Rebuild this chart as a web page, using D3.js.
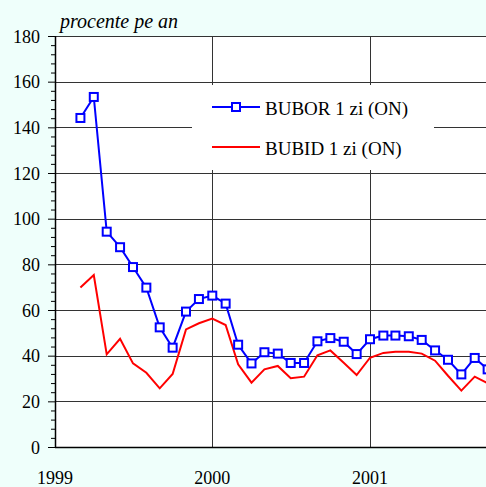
<!DOCTYPE html>
<html>
<head>
<meta charset="utf-8">
<script src="https://cdn.jsdelivr.net/npm/d3@7"></script>
<style>
  body { margin: 0; background: #effffb; }
  svg { display: block; }
  svg text { font-family: "Liberation Serif", "Tinos", "DejaVu Serif", "Times New Roman", Times, serif; }
</style>
</head>
<body>
<script>
// monthly observations, Mar 1999 .. Oct 2001
const months = [
  "1999-03", "1999-04", "1999-05", "1999-06", "1999-07", "1999-08", "1999-09", "1999-10",
  "1999-11", "1999-12", "2000-01", "2000-02", "2000-03", "2000-04", "2000-05", "2000-06",
  "2000-07", "2000-08", "2000-09", "2000-10", "2000-11", "2000-12", "2001-01", "2001-02",
  "2001-03", "2001-04", "2001-05", "2001-06", "2001-07", "2001-08", "2001-09", "2001-10"
];
const bubor = [
  144.1, 153.3, 94.3, 87.5, 78.8, 69.8, 52.4, 43.5, 59.3, 64.8, 66.3, 62.8, 44.8, 36.6, 41.5, 40.9,
  36.8, 36.8, 46.3, 47.7, 46.1, 40.7, 47.2, 48.8, 48.8, 48.5, 46.9, 42.3, 38.2, 31.8, 39.0, 34.0
];
const bubid = [
  69.9, 75.3, 40.6, 47.4, 36.6, 32.5, 25.7, 32.0, 51.5, 54.2, 56.2, 53.4, 36.2, 28.2, 34.0, 35.5,
  30.1, 30.8, 40.2, 42.3, 36.9, 31.5, 39.1, 41.2, 41.7, 41.7, 40.9, 37.8, 31.2, 24.7, 30.8, 27.9
];
const yearTicks = ["1999", "2000", "2001"];
const legendNames = ["BUBOR 1 zi (ON)", "BUBID 1 zi (ON)"];

const W = 486, H = 487;
const plotL = 55, plotT = 36, plotB = 447, plotR = 486;

const parse = d3.timeParse("%Y-%m");
const dates = months.map(parse);
const yearDates = yearTicks.map(d3.timeParse("%Y"));

const x = d3.scaleTime()
  .domain([yearDates[0], yearDates[2]])
  .range([plotL, 370]);
const y = d3.scaleLinear().domain([0, 180]).range([plotB, plotT]);

const svg = d3.select("body").append("svg")
  .attr("width", W)
  .attr("height", H);

// plot area
svg.append("rect")
  .attr("x", plotL).attr("y", plotT)
  .attr("width", plotR - plotL).attr("height", plotB - plotT)
  .attr("fill", "#fff");

svg.append("defs").append("clipPath").attr("id", "clip")
  .append("rect")
  .attr("x", plotL).attr("y", plotT)
  .attr("width", plotR - plotL).attr("height", plotB - plotT);

// gridlines
const grid = svg.append("g").attr("stroke", "#333").attr("stroke-width", 1);
grid.selectAll(".hg")
  .data(d3.range(20, 181, 20))
  .join("line")
  .attr("x1", plotL).attr("x2", plotR)
  .attr("y1", (d) => Math.round(y(d)) + 0.5)
  .attr("y2", (d) => Math.round(y(d)) + 0.5);
grid.selectAll(".vg")
  .data(yearDates.slice(1))
  .join("line")
  .attr("x1", (d) => Math.round(x(d)) + 0.5)
  .attr("x2", (d) => Math.round(x(d)) + 0.5)
  .attr("y1", plotT).attr("y2", plotB);

// legend box sits over the grid
svg.append("rect")
  .attr("x", 192).attr("y", 85)
  .attr("width", 242).attr("height", 85)
  .attr("fill", "#fff");

// y axis: major ticks with labels, minor ticks every 4
const minor = d3.range(0, 181, 4).filter((d) => d % 20 !== 0);
const yMinor = svg.append("g")
  .attr("transform", `translate(${plotL},0)`)
  .call(d3.axisLeft(y).tickValues(minor).tickSize(4).tickFormat(""));
yMinor.select(".domain").remove();

const yMajor = svg.append("g")
  .attr("transform", `translate(${plotL},0)`)
  .call(d3.axisLeft(y).tickValues(d3.range(0, 181, 20)).tickSize(7).tickPadding(8));
yMajor.select(".domain").remove();
yMajor.attr("font-family", null).attr("font-size", null);
yMajor.selectAll("text")
  .attr("font-size", 18)
  .attr("fill", "#000")
  .attr("dy", "0.35em");
svg.selectAll(".tick line").attr("stroke", "#000");

// axis lines
svg.append("line")
  .attr("x1", plotL + 0.5).attr("x2", plotL + 0.5)
  .attr("y1", plotT).attr("y2", plotB + 1)
  .attr("stroke", "#000").attr("stroke-width", 1.5);
svg.append("line")
  .attr("x1", plotL).attr("x2", plotR)
  .attr("y1", plotB + 0.5).attr("y2", plotB + 0.5)
  .attr("stroke", "#000").attr("stroke-width", 1.5);

// x labels
svg.selectAll(".xl")
  .data(yearDates)
  .join("text")
  .attr("x", (d) => x(d))
  .attr("y", 484)
  .attr("text-anchor", "middle")
  .attr("font-size", 18)
  .text((d, i) => yearTicks[i]);

// unit title
svg.append("text")
  .attr("x", 60).attr("y", 28)
  .attr("font-size", 20)
  .attr("font-style", "italic")
  .text("procente pe an");

// series
const line = (vals) => d3.line()
  .x((d, i) => x(dates[i]))
  .y((d) => y(d))(vals);

const series = svg.append("g").attr("clip-path", "url(#clip)");
series.append("path")
  .attr("d", line(bubid))
  .attr("fill", "none")
  .attr("stroke", "#ff0000")
  .attr("stroke-width", 2);
series.append("path")
  .attr("d", line(bubor))
  .attr("fill", "none")
  .attr("stroke", "#0000ff")
  .attr("stroke-width", 2);
series.selectAll(".mk")
  .data(bubor)
  .join("rect")
  .attr("x", (d, i) => x(dates[i]) - 4)
  .attr("y", (d) => y(d) - 4)
  .attr("width", 8).attr("height", 8)
  .attr("fill", "#fff")
  .attr("stroke", "#0000ff")
  .attr("stroke-width", 2);

// legend
const leg = svg.append("g");
const legY = [107, 147];
const legColors = ["#0000ff", "#ff0000"];
leg.selectAll("line")
  .data(legendNames)
  .join("line")
  .attr("x1", 212).attr("x2", 260)
  .attr("y1", (d, i) => legY[i]).attr("y2", (d, i) => legY[i])
  .attr("stroke", (d, i) => legColors[i])
  .attr("stroke-width", 2);
leg.append("rect")
  .attr("x", 232).attr("y", legY[0] - 4)
  .attr("width", 8).attr("height", 8)
  .attr("fill", "#fff")
  .attr("stroke", "#0000ff")
  .attr("stroke-width", 2);
leg.selectAll("text")
  .data(legendNames)
  .join("text")
  .attr("x", 265)
  .attr("y", (d, i) => legY[i] + 8)
  .attr("font-size", 19)
  .text((d) => d);
</script>
</body>
</html>
